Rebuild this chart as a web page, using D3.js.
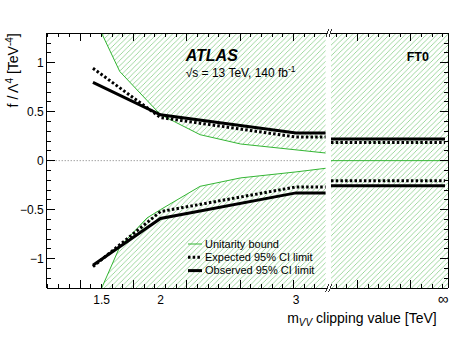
<!DOCTYPE html>
<meta charset="utf-8">
<head>
  <script type="text/javascript" src="https://d3js.org/d3.v7.min.js"></script>
</head>
<style type="text/css">
  body {
    margin: 0;
    background: #fff;
    font-family: "Liberation Sans", Arial, Helvetica, sans-serif;
  }
  .axis line, .axis path { shape-rendering: crispEdges; }
  .tick-label { font-size: 12px; fill: #000; }
</style>
<body>
</body>
<script type="text/javascript">

// unitarity bound (upper / lower) vs clipping value
var unitMass  = [1.5, 1.66, 1.89, 2.0, 2.31, 2.61, 3.0, 3.2];
var unitUpper = [1.30, 0.91, 0.615, 0.47, 0.265, 0.17, 0.11, 0.078];
var unitLower = [-1.30, -0.88, -0.585, -0.50, -0.262, -0.176, -0.115, -0.078];

// 95% CI limits
var limMass  = [1.42, 2.0, 3.0, 3.2];
var obsUpper = [0.80, 0.468, 0.282, 0.282];
var obsLower = [-1.068, -0.59, -0.329, -0.329];
var expUpper = [0.943, 0.44, 0.241, 0.241];
var expLower = [-1.082, -0.52, -0.268, -0.268];

// no clipping (infinity)
var infObs  = [0.221, -0.256];
var infExp  = [0.186, -0.205];
var infUnit = [0, 0];

var xTickValues = [1.5, 2, 3];
var xTickLabels = ["1.5", "2", "3"];
var yTickValues = [-1, -0.5, 0, 0.5, 1];
var yTickLabels = ["\u22121", "\u22120.5", "0", "0.5", "1"];

var width = 473,
    height = 340;

var L = 46.7, T = 33.3, B = 288, R = 448,
    breakL = 326.5, breakR = 331;

var svg = d3.select("body").append("svg")
    .attr("width", width)
    .attr("height", height);

var y = d3.scaleLinear().domain([-1.3, 1.3]).range([B, T]);
var x = d3.scalePow().exponent(1.4).domain([1.5, 3]).range([101.7, 296]);
var xInf = d3.scaleLinear().domain([0, 1]).range([breakR, R]);

var defs = svg.append("defs");
var pat = defs.append("pattern")
    .attr("id", "hatch")
    .attr("patternUnits", "userSpaceOnUse")
    .attr("width", 5.3)
    .attr("height", 5.3);
pat.append("path")
    .attr("d", "M0,5.3 L5.3,0 M-1,1 L1,-1 M4.3,6.3 L6.3,4.3")
    .style("stroke", "#86cd86")
    .style("stroke-width", 0.8);

defs.append("clipPath").attr("id", "clipL")
  .append("rect").attr("x", L).attr("y", T).attr("width", breakL - L).attr("height", B - T);
defs.append("clipPath").attr("id", "clipR")
  .append("rect").attr("x", breakR).attr("y", T).attr("width", R - breakR).attr("height", B - T);

var unit = unitMass.map(function(m, i) { return {m: m, up: unitUpper[i], lo: unitLower[i]}; });

// hatched exclusion regions, left panel
var gL = svg.append("g").attr("clip-path", "url(#clipL)");

gL.append("path")
    .datum(unit)
    .attr("d", d3.area().x(function(d) { return x(d.m); })
      .y0(T - 5).y1(function(d) { return y(d.up); }))
    .style("fill", "url(#hatch)");
gL.append("path")
    .datum(unit)
    .attr("d", d3.area().x(function(d) { return x(d.m); })
      .y0(B + 5).y1(function(d) { return y(d.lo); }))
    .style("fill", "url(#hatch)");

// zero line
gL.append("line")
    .attr("x1", L).attr("x2", breakL)
    .attr("y1", y(0)).attr("y2", y(0))
    .style("stroke", "#555")
    .style("stroke-width", 0.8)
    .style("stroke-dasharray", "1,2");

var unitLine = function(key) {
  return d3.line().x(function(d) { return x(d.m); }).y(function(d) { return y(d[key]); });
};
["up", "lo"].forEach(function(k) {
  gL.append("path")
      .datum(unit)
      .attr("d", unitLine(k))
      .style("fill", "none")
      .style("stroke", "#33b533")
      .style("stroke-width", 1);
});

var limLine = function(vals) {
  return d3.line().x(function(d, i) { return x(limMass[i]); }).y(function(d) { return y(d); })(vals);
};

[expUpper, expLower].forEach(function(v) {
  gL.append("path")
      .attr("d", limLine(v))
      .style("fill", "none")
      .style("stroke", "#000")
      .style("stroke-width", 3)
      .style("stroke-dasharray", "2.5,2.2");
});
[obsUpper, obsLower].forEach(function(v) {
  gL.append("path")
      .attr("d", limLine(v))
      .style("fill", "none")
      .style("stroke", "#000")
      .style("stroke-width", 3);
});

// right panel (infinity)
var gR = svg.append("g").attr("clip-path", "url(#clipR)");
gR.append("rect")
    .attr("x", xInf(0)).attr("y", T)
    .attr("width", xInf(1) - xInf(0)).attr("height", B - T)
    .style("fill", "url(#hatch)");

gR.append("line")
    .attr("x1", xInf(0)).attr("x2", xInf(1))
    .attr("y1", y(infUnit[0])).attr("y2", y(infUnit[1]))
    .style("stroke", "#33b533").style("stroke-width", 1);

infExp.forEach(function(v) {
  gR.append("line")
      .attr("x1", xInf(0)).attr("x2", xInf(1) - 3)
      .attr("y1", y(v)).attr("y2", y(v))
      .style("stroke", "#000").style("stroke-width", 3)
      .style("stroke-dasharray", "2.5,2.2");
});
infObs.forEach(function(v) {
  gR.append("line")
      .attr("x1", xInf(0)).attr("x2", xInf(1) - 3)
      .attr("y1", y(v)).attr("y2", y(v))
      .style("stroke", "#000").style("stroke-width", 3);
});

// frame
var frame = svg.append("g").attr("class", "axis")
    .style("stroke", "#000").style("stroke-width", 1);
frame.append("line").attr("x1", L).attr("x2", L).attr("y1", T).attr("y2", B);
frame.append("line").attr("x1", R).attr("x2", R).attr("y1", T).attr("y2", B);
[T, B].forEach(function(yy) {
  frame.append("line").attr("x1", L).attr("x2", breakL).attr("y1", yy).attr("y2", yy);
  frame.append("line").attr("x1", breakR).attr("x2", R).attr("y1", yy).attr("y2", yy);
  // break marks
  [-1.5, 1.5].forEach(function(dx) {
    frame.append("line")
        .attr("x1", (breakL + breakR) / 2 + dx - 1.5).attr("x2", (breakL + breakR) / 2 + dx + 1.5)
        .attr("y1", yy + 4).attr("y2", yy - 4)
        .style("stroke-width", 0.8);
  });
});

// y ticks
var yMinor = d3.range(-12, 14).map(function(i) { return i / 10; });
yMinor.forEach(function(v) {
  var major = Math.abs(v * 2 - Math.round(v * 2)) < 1e-6;
  var len = major ? 8 : 4;
  frame.append("line").attr("x1", L).attr("x2", L + len).attr("y1", y(v)).attr("y2", y(v));
  frame.append("line").attr("x1", R).attr("x2", R - len).attr("y1", y(v)).attr("y2", y(v));
});

// x ticks (uniform grid as in the original)
var tickStep = 10.67;
var xTicksL = d3.range(-3, 23).map(function(i) { return 80 + i * tickStep; })
    .filter(function(p) { return p > L + 1 && p < breakL - 1; });
var xTicksR = d3.range(0, 11).map(function(i) { return breakR + 5 + i * tickStep; })
    .filter(function(p) { return p < R - 1; });
function drawXTicks(list, base) {
  list.forEach(function(p, i) {
    var major = Math.round((p - base) / tickStep) % 5 === 0;
    var len = major ? 8 : 4;
    frame.append("line").attr("x1", p).attr("x2", p).attr("y1", B).attr("y2", B - len);
    frame.append("line").attr("x1", p).attr("x2", p).attr("y1", T).attr("y2", T + len);
  });
}
drawXTicks(xTicksL, 80);
drawXTicks(xTicksR, breakR + 26);

// tick labels
svg.selectAll(".ylab")
    .data(yTickValues)
  .enter().append("text")
    .attr("class", "tick-label")
    .attr("x", L - 3)
    .attr("y", function(d) { return y(d); })
    .attr("dy", "0.35em")
    .attr("text-anchor", "end")
    .text(function(d, i) { return yTickLabels[i]; });

svg.selectAll(".xlab")
    .data(xTickValues)
  .enter().append("text")
    .attr("class", "tick-label")
    .attr("x", function(d) { return x(d); })
    .attr("y", 304)
    .attr("text-anchor", "middle")
    .text(function(d, i) { return xTickLabels[i]; });

svg.append("text")
    .attr("class", "tick-label")
    .attr("x", xInf(1) - 5)
    .attr("y", 304)
    .attr("text-anchor", "middle")
    .style("font-size", "15px")
    .text("\u221e");

// axis titles
var yt = svg.append("text")
    .attr("transform", "translate(18," + T + ") rotate(-90)")
    .attr("text-anchor", "end")
    .style("font-size", "14px");
yt.append("tspan").text("f /\u202f\u039b");
yt.append("tspan").attr("dy", -5).style("font-size", "10px").text("4");
yt.append("tspan").attr("dy", 5).text(" [TeV");
yt.append("tspan").attr("dy", -5).style("font-size", "10px").text("-4");
yt.append("tspan").attr("dy", 5).text("]");

var xt = svg.append("text")
    .attr("x", 436.7)
    .attr("y", 323)
    .attr("text-anchor", "end")
    .style("font-size", "14px");
xt.append("tspan").text("m");
xt.append("tspan").attr("dy", 3).style("font-size", "10px").style("font-style", "italic").text("VV");
xt.append("tspan").attr("dy", -3).text(" clipping value [TeV]");

// labels
svg.append("text")
    .attr("x", 185.7).attr("y", 61)
    .style("font-size", "16px")
    .style("font-weight", "bold")
    .style("font-style", "italic")
    .text("ATLAS");

var en = svg.append("text")
    .attr("x", 185.7).attr("y", 77)
    .style("font-size", "12px");
en.append("tspan").text("\u221as = 13 TeV, 140 fb");
en.append("tspan").attr("dy", -5).style("font-size", "8.5px").text("-1");

svg.append("text")
    .attr("x", 406.7).attr("y", 61)
    .style("font-size", "12.5px")
    .style("font-weight", "bold")
    .text("FT0");

// legend
var legendItems = [
  {label: "Unitarity bound", color: "#33b533", w: 1, dash: null},
  {label: "Expected 95% CI limit", color: "#000", w: 3, dash: "2.5,2.2"},
  {label: "Observed 95% CI limit", color: "#000", w: 3, dash: null}
];
var legend = svg.selectAll(".legend")
    .data(legendItems)
  .enter().append("g")
    .attr("transform", function(d, i) { return "translate(188," + (244 + 13.3 * i) + ")"; });
legend.append("line")
    .attr("x1", 0).attr("x2", 14)
    .style("stroke", function(d) { return d.color; })
    .style("stroke-width", function(d) { return d.w; })
    .style("stroke-dasharray", function(d) { return d.dash; });
legend.append("text")
    .attr("x", 17)
    .attr("dy", "0.35em")
    .style("font-size", "11px")
    .text(function(d) { return d.label; });

</script>
</html>
